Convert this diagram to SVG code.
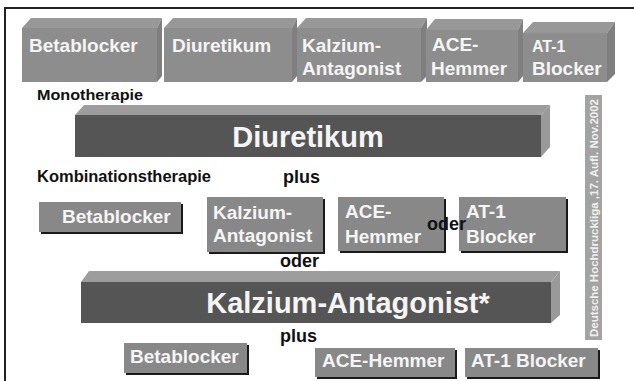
<svg xmlns="http://www.w3.org/2000/svg" width="634" height="381" viewBox="0 0 634 381">
<style>
.t{font-family:"Liberation Sans",Arial,sans-serif;font-weight:bold;}
.w{fill:#f5f5f5;}
.k{fill:#111;}
.front{fill:#8d8d8d;}
.topf{fill:#989898;}
.side{fill:#7f7f7f;}
.bfront{fill:#555;}
.btop{fill:#9d9d9d;}
.bside{fill:#9a9a9a;}
.flat{fill:#888;}
.shadow{fill:#1a1a1a;}
</style>
<rect width="634" height="381" fill="#fff"/>
<g id="frame" stroke="#222" stroke-width="2" fill="none">
<line x1="4" y1="8" x2="634" y2="8"/>
<line x1="5" y1="8" x2="5" y2="381"/>
</g>
<g id="top-betablocker">
<polygon class="topf" points="22,28 31,18 162,18 157,28"/>
<polygon class="side" points="157,28 162,18 162,76 157,82"/>
<rect class="front" x="22" y="28" width="135" height="54"/>
<text class="t w" x="29" y="52" font-size="19">Betablocker</text>
</g>
<g id="top-diuretikum">
<polygon class="topf" points="164,28 173,18 297,18 292,28"/>
<polygon class="side" points="292,28 297,18 297,76 292,82"/>
<rect class="front" x="164" y="28" width="128" height="54"/>
<text class="t w" x="172" y="52" font-size="19">Diuretikum</text>
</g>
<g id="top-kalzium">
<polygon class="topf" points="297,28 306,18 427,18 421,28"/>
<polygon class="side" points="421,28 427,18 427,76 421,82"/>
<rect class="front" x="297" y="28" width="124" height="54"/>
<text class="t w" x="302" y="52" font-size="19">Kalzium-</text>
<text class="t w" x="302" y="75" font-size="19">Antagonist</text>
</g>
<g id="top-ace">
<polygon class="topf" points="426,30 435,19 523,19 518,30"/>
<polygon class="side" points="518,30 523,19 523,76 518,82"/>
<rect class="front" x="426" y="30" width="92" height="52"/>
<text class="t w" x="432" y="51" font-size="19">ACE-</text>
<text class="t w" x="431" y="75" font-size="19">Hemmer</text>
</g>
<g id="top-at1">
<polygon class="topf" points="523,33 533,22 615,22 607,33"/>
<polygon class="side" points="607,33 615,22 615,74 607,82"/>
<rect class="front" x="523" y="33" width="84" height="49"/>
<text class="t w" x="532" y="52" font-size="16">AT-1</text>
<text class="t w" x="532" y="75" font-size="19">Blocker</text>
</g>
<text class="t k" x="37" y="100" font-size="15" textLength="106" lengthAdjust="spacingAndGlyphs">Monotherapie</text>
<g id="bar-diuretikum">
<polygon class="btop" points="75,115 84,105 550,105 541,115"/>
<polygon class="bside" points="541,115 550,105 550,147 541,157"/>
<rect class="bfront" x="75" y="115" width="466" height="42"/>
<text class="t w" x="308" y="147" font-size="29" text-anchor="middle">Diuretikum</text>
</g>
<text class="t k" x="37" y="182" font-size="16" textLength="174" lengthAdjust="spacingAndGlyphs">Kombinationstherapie</text>
<text class="t k" x="283" y="183" font-size="18">plus</text>
<g id="row-betablocker">
<rect class="shadow" x="41" y="204" width="142" height="30"/>
<rect class="flat" x="39" y="202" width="142" height="30"/>
<text class="t w" x="62" y="223" font-size="19">Betablocker</text>
</g>
<g id="row-kalzium">
<rect class="shadow" x="209" y="199" width="116" height="55"/>
<rect class="flat" x="207" y="197" width="116" height="55"/>
<text class="t w" x="213" y="219" font-size="19">Kalzium-</text>
<text class="t w" x="213" y="242" font-size="19">Antagonist</text>
</g>
<g id="row-ace">
<rect class="shadow" x="340" y="199" width="106" height="54"/>
<rect class="flat" x="338" y="197" width="106" height="54"/>
<text class="t w" x="345" y="218" font-size="19">ACE-</text>
<text class="t w" x="345" y="243" font-size="19">Hemmer</text>
</g>
<g id="row-at1">
<rect class="shadow" x="461" y="199" width="107" height="54"/>
<rect class="flat" x="459" y="197" width="107" height="54"/>
<text class="t w" x="466" y="218" font-size="19">AT-1</text>
<text class="t w" x="466" y="243" font-size="19">Blocker</text>
</g>
<text class="t k" x="427" y="230" font-size="18">oder</text>
<text class="t k" x="280" y="267" font-size="18">oder</text>
<g id="bar-kalzium">
<polygon class="btop" points="81,282 89,271 560,271 551,282"/>
<polygon class="bside" points="551,282 560,271 560,315 551,323"/>
<rect class="bfront" x="81" y="282" width="470" height="41"/>
<text class="t w" x="348" y="313" font-size="29" text-anchor="middle">Kalzium-Antagonist*</text>
</g>
<text class="t k" x="280" y="342" font-size="18">plus</text>
<g id="bottom-betablocker">
<rect class="shadow" x="126" y="345" width="123" height="30"/>
<rect class="flat" x="124" y="343" width="123" height="30"/>
<text class="t w" x="130" y="363" font-size="19">Betablocker</text>
</g>
<g id="bottom-ace">
<rect class="shadow" x="317" y="350" width="140" height="29"/>
<rect class="flat" x="315" y="348" width="140" height="29"/>
<text class="t w" x="322" y="367" font-size="19">ACE-Hemmer</text>
</g>
<g id="bottom-at1">
<rect class="shadow" x="467" y="350" width="133" height="29"/>
<rect class="flat" x="465" y="348" width="133" height="29"/>
<text class="t w" x="471" y="367" font-size="19">AT-1 Blocker</text>
</g>
<g id="source-strip">
<rect x="585" y="95" width="17" height="245" fill="#a3a3a3"/>
<text class="t" fill="#f0f0f0" font-size="11" transform="translate(598,337) rotate(-90)" textLength="238" lengthAdjust="spacingAndGlyphs">Deutsche Hochdruckliga ,17. Aufl. Nov.2002</text>
</g>
</svg>
